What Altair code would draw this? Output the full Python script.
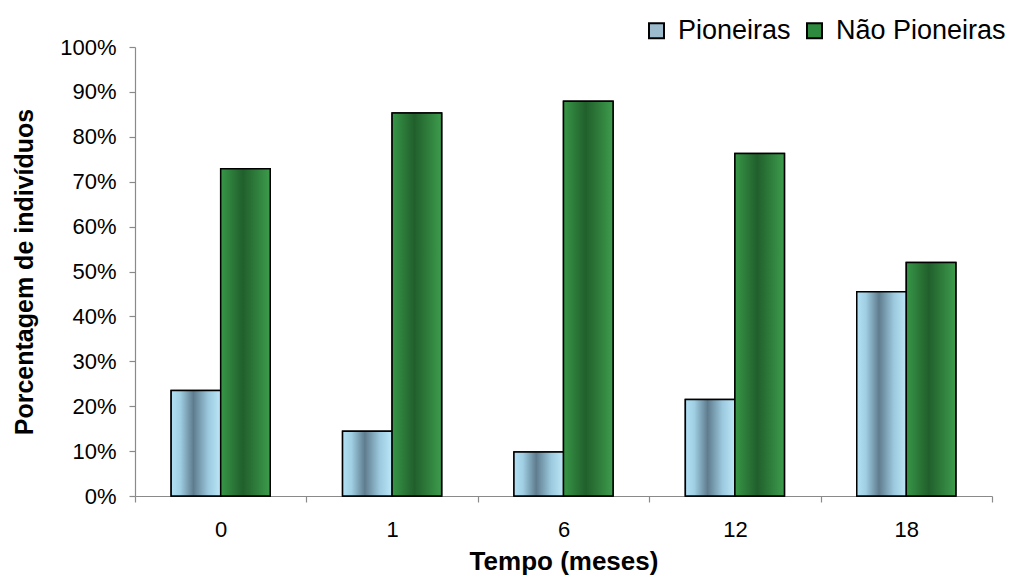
import altair as alt
import pandas as pd

# Months since the start and share of individuals per group (%)
meses = ["0", "1", "6", "12", "18"]
pioneiras = [23.5, 14.4, 9.8, 21.5, 45.5]
nao_pioneiras = [72.9, 85.3, 87.9, 76.3, 52.0]
series = ["Pioneiras", "Não Pioneiras"]
y_ticks = [0, 10, 20, 30, 40, 50, 60, 70, 80, 90, 100]

rows = []
for m, p, n in zip(meses, pioneiras, nao_pioneiras):
    rows.append({"mes": m, "grupo": series[0], "valor": p})
    rows.append({"mes": m, "grupo": series[1], "valor": n})
df = pd.DataFrame(rows)

FONT = "Liberation Sans"

grad_blue = alt.Gradient(
    gradient="linear", x1=0, x2=1, y1=0, y2=0,
    stops=[
        alt.GradientStop(offset=0.0, color="#b2e1f6"),
        alt.GradientStop(offset=0.18, color="#a0cfe4"),
        alt.GradientStop(offset=0.45, color="#5f7c8e"),
        alt.GradientStop(offset=0.75, color="#9cc9de"),
        alt.GradientStop(offset=1.0, color="#bde7f8"),
    ],
)
grad_green = alt.Gradient(
    gradient="linear", x1=0, x2=1, y1=0, y2=0,
    stops=[
        alt.GradientStop(offset=0.0, color="#379747"),
        alt.GradientStop(offset=0.45, color="#215f2c"),
        alt.GradientStop(offset=1.0, color="#3d9c4c"),
    ],
)

x_enc = alt.X(
    "mes:N",
    sort=meses,
    scale=alt.Scale(paddingInner=0, paddingOuter=0),
    axis=alt.Axis(
        title="Tempo (meses)",
        labelAngle=0,
        tickBand="extent",
        tickSize=6,
        labelPadding=17,
        titlePadding=8,
    ),
)
xoff_enc = alt.XOffset(
    "grupo:N",
    sort=series,
    scale=alt.Scale(paddingInner=0, paddingOuter=0.73),
)
y_enc = alt.Y(
    "valor:Q",
    scale=alt.Scale(domain=[0, 100], nice=False),
    axis=alt.Axis(
        title="Porcentagem de indivíduos",
        values=y_ticks,
        labelExpr="datum.value + '%'",
        grid=False,
        tickSize=6,
        labelPadding=13,
        titlePadding=22,
    ),
)

# Solid bars carry the legend; gradient bars are drawn over them
base = alt.Chart(df).mark_bar(stroke="black", strokeWidth=1.5).encode(
    x=x_enc,
    xOffset=xoff_enc,
    y=y_enc,
    color=alt.Color(
        "grupo:N",
        sort=series,
        scale=alt.Scale(domain=series, range=["#9cbccd", "#2e8a3e"]),
        legend=alt.Legend(
            title=None,
            orient="none",
            direction="horizontal",
            legendX=508,
            legendY=-30,
            symbolType="square",
            symbolSize=225,
            symbolStrokeColor="black",
            symbolStrokeWidth=2,
            labelFontSize=27,
            labelFont=FONT,
            labelColor="black",
            labelLimit=400,
            labelOffset=8,
            columnPadding=10,
            padding=0,
        ),
    ),
)

blue_bars = (
    alt.Chart(df)
    .transform_filter(alt.datum.grupo == series[0])
    .mark_bar(fill=grad_blue, stroke="black", strokeWidth=1.5)
    .encode(x=x_enc, xOffset=xoff_enc, y=y_enc)
)
green_bars = (
    alt.Chart(df)
    .transform_filter(alt.datum.grupo == series[1])
    .mark_bar(fill=grad_green, stroke="black", strokeWidth=1.5)
    .encode(x=x_enc, xOffset=xoff_enc, y=y_enc)
)

chart = (
    alt.layer(base, blue_bars, green_bars)
    .properties(
        width=857,
        height=449,
        autosize=alt.AutoSizeParams(type="none"),
        padding={"left": 135, "top": 47, "right": 18, "bottom": 84},
        background="white",
    )
    .configure_view(stroke=None)
    .configure_axis(
        labelFont=FONT,
        labelFontSize=22,
        labelColor="black",
        titleFont=FONT,
        titleFontWeight="bold",
        titleColor="black",
        domainColor="#8a8a8a",
        tickColor="#8a8a8a",
        domainWidth=1.2,
        tickWidth=1.2,
    )
    .configure_axisX(titleFontSize=26)
    .configure_axisY(titleFontSize=25)
)

chart.save("out.html", embed_options={"renderer": "svg", "actions": False})
